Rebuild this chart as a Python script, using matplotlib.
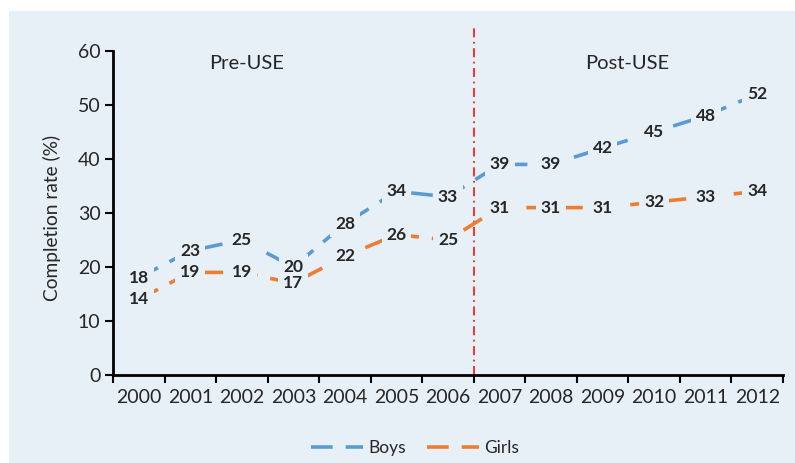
import numpy as np
import matplotlib.pyplot as plt
from matplotlib.patches import Rectangle

years = ['2000', '2001', '2002', '2003', '2004', '2005', '2006',
         '2007', '2008', '2009', '2010', '2011', '2012']
boys = [18, 23, 25, 20, 28, 34, 33, 39, 39, 42, 45, 48, 52]
girls = [14, 19, 19, 17, 22, 26, 25, 31, 31, 31, 32, 33, 34]

plt.rcParams['font.family'] = ['Lato', 'DejaVu Sans']

bg = '#e8f0f7'
blue = '#5b9bd5'
orange = '#ed7d31'
txt = '#262626'

fig = plt.figure(figsize=(7.95, 4.63), dpi=100)
fig.patch.set_facecolor('white')
# light panel behind the chart, with a thin white margin top/left
fig.patches.append(Rectangle((9 / 795, 0), 1, (463 - 11) / 463,
                             transform=fig.transFigure, facecolor=bg,
                             edgecolor='none', zorder=-10))

ax = fig.add_axes([113 / 795, 88 / 463, 670 / 795, 324 / 463])
ax.set_facecolor('none')

x = np.arange(len(years))
dash = (6, 3.6)
ax.plot(x, boys, color=blue, lw=2.6, dashes=dash, label='Boys', zorder=2)
ax.plot(x, girls, color=orange, lw=2.6, dashes=dash, label='Girls', zorder=2)

# data labels sit on the points and mask the line underneath:
# first the masks (invisible text + bg box), then the digits on top
for xi, b, g in zip(x, boys, girls):
    for v in (b, g):
        ax.text(xi, v, str(v), ha='center', va='center', fontsize=12.5,
                fontweight='bold', color=bg, zorder=3,
                bbox=dict(facecolor=bg, edgecolor='none', pad=3.5))
        ax.text(xi, v, str(v), ha='center', va='center', fontsize=12.5,
                fontweight='bold', color=txt, zorder=4)

# policy boundary between 2006 and 2007
ax.plot([6.5, 6.5], [0, 64.4], color='#ff2020', lw=1.3,
        dashes=(5, 2.5, 1, 2.5), clip_on=False, zorder=1)

ax.text(2.1, 57.6, 'Pre-USE', ha='center', va='center', fontsize=14.5, color=txt)
ax.text(9.47, 57.6, 'Post-USE', ha='center', va='center', fontsize=14.5, color=txt)

ax.set_xlim(-0.5, 12.5)
ax.set_ylim(0, 60)
ax.set_yticks(range(0, 61, 10))
ax.set_xticks(np.arange(-0.5, 13, 1))
ax.set_xticklabels([])
ax.set_xticks(x, minor=True)
ax.set_xticklabels(years, minor=True)
ax.tick_params(axis='x', which='major', length=6, width=1.5, color='black')
ax.tick_params(axis='x', which='minor', length=0, pad=10, labelsize=14, labelcolor=txt)
ax.tick_params(axis='y', length=6, width=1.5, pad=3, labelsize=14, labelcolor=txt)

for s in ['top', 'right']:
    ax.spines[s].set_visible(False)
for s in ['left', 'bottom']:
    ax.spines[s].set_linewidth(2)
    ax.spines[s].set_color('black')

ax.set_ylabel('Completion rate (%)', fontsize=13.8, color=txt)
ax.yaxis.set_label_coords(-0.078, 0.485)

fig.legend(loc='center', bbox_to_anchor=(0.522, 0.032), ncol=2, frameon=False,
           fontsize=12.5, handlelength=3.0, columnspacing=1.2, handletextpad=0.3,
           labelcolor=txt)

fig.savefig('out.png', dpi=100, facecolor=fig.get_facecolor())
